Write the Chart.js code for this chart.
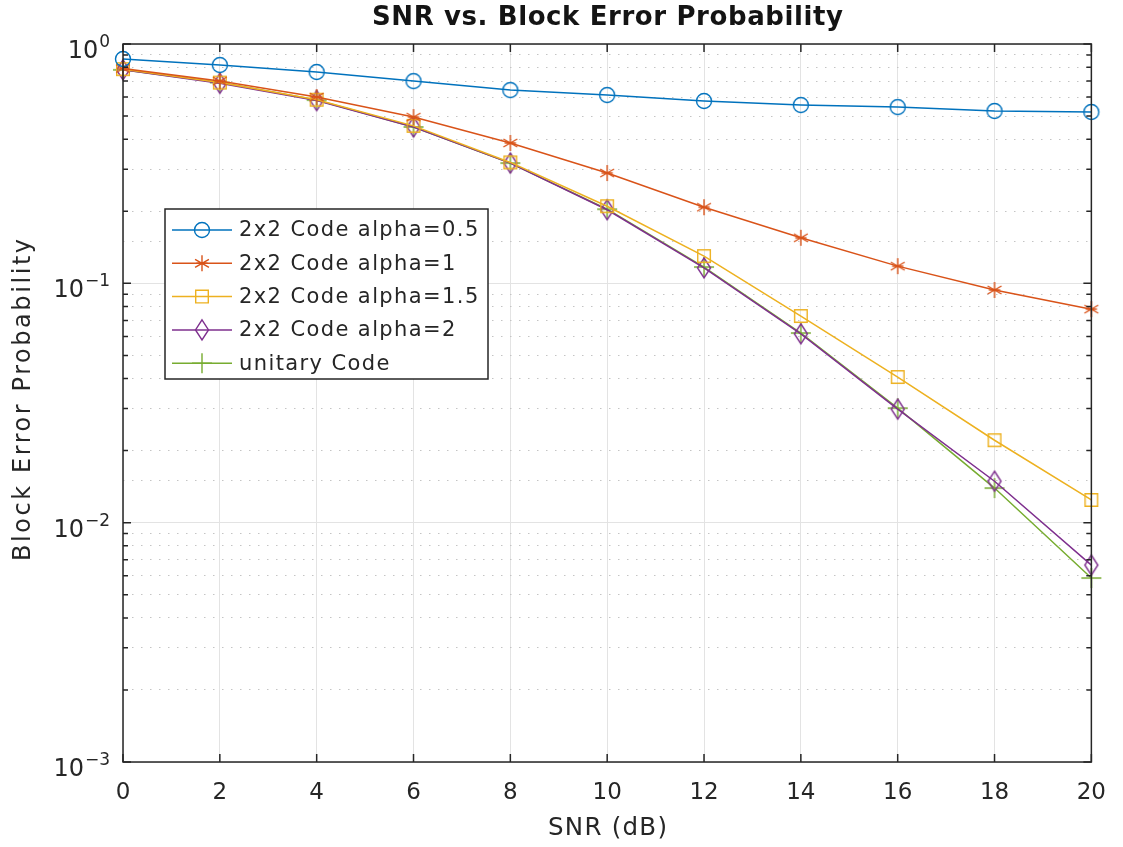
<!DOCTYPE html>
<html><head><meta charset="utf-8">
<script src="https://cdn.jsdelivr.net/npm/chart.js@4.4.1/dist/chart.umd.min.js"></script>
<style>html,body{margin:0;padding:0;background:#fff}#wrap{width:1123px;height:847px}</style>
</head><body><div id="wrap"><canvas id="c" width="1123" height="847"></canvas></div>
<script>
const snr = [0, 2, 4, 6, 8, 10, 12, 14, 16, 18, 20];
const alpha05 = [0.866, 0.817, 0.764, 0.70, 0.642, 0.612, 0.578, 0.556, 0.545, 0.525, 0.52];
const alpha1 = [0.79, 0.70, 0.60, 0.495, 0.386, 0.289, 0.208, 0.155, 0.118, 0.0938, 0.078];
const alpha15 = [0.785, 0.69, 0.585, 0.455, 0.32, 0.21, 0.13, 0.073, 0.0406, 0.0221, 0.01244];
const alpha2 = [0.78, 0.685, 0.58, 0.45, 0.318, 0.203, 0.116, 0.0615, 0.0298, 0.0149, 0.00665];
const unitary = [0.78, 0.69, 0.583, 0.45, 0.318, 0.204, 0.117, 0.062, 0.0301, 0.01395, 0.00587];
const seriesNames = ['2x2 Code alpha=0.5', '2x2 Code alpha=1', '2x2 Code alpha=1.5', '2x2 Code alpha=2', 'unitary Code'];
const yDecades = [1, 0.1, 0.01, 0.001];
const yExponents = ['0', '\u22121', '\u22122', '\u22123'];

const FONT = '"DejaVu Sans", sans-serif';
const TXT = '#262626';
const colors = ['#0072BD', '#D95319', '#EDB120', '#7E2F8E', '#77AC30'];
const markers = ['circle', 'star', 'square', 'diamond', 'plus'];
const msize = {circle: 7.5, star: 8, square: 6.3, diamond: [6.5, 10], plus: 10};

function drawMarker(ctx, type, x, y, color) {
  ctx.save();
  ctx.strokeStyle = color; ctx.lineWidth = 1.4; ctx.setLineDash([]);
  ctx.beginPath();
  if (type === 'circle') { ctx.arc(x, y, msize.circle, 0, Math.PI * 2); }
  else if (type === 'square') { const s = msize.square; ctx.rect(x - s, y - s, 2 * s, 2 * s); }
  else if (type === 'diamond') { const [w, h] = msize.diamond; ctx.moveTo(x, y - h); ctx.lineTo(x + w, y); ctx.lineTo(x, y + h); ctx.lineTo(x - w, y); ctx.closePath(); }
  else if (type === 'plus') { const r = msize.plus; ctx.moveTo(x - r, y); ctx.lineTo(x + r, y); ctx.moveTo(x, y - r); ctx.lineTo(x, y + r); }
  else if (type === 'star') {
    const r = msize.star;
    ctx.moveTo(x, y - r); ctx.lineTo(x, y + r);
    const a = r * Math.cos(Math.PI / 6), b = r * Math.sin(Math.PI / 6);
    ctx.moveTo(x - a, y - b); ctx.lineTo(x + a, y + b);
    ctx.moveTo(x - a, y + b); ctx.lineTo(x + a, y - b);
    ctx.moveTo(x - r * 0.7, y); ctx.lineTo(x + r * 0.7, y);
  }
  ctx.stroke();
  ctx.restore();
}
function markerCanvas(type, color) {
  const c = document.createElement('canvas');
  c.width = 26; c.height = 26;
  drawMarker(c.getContext('2d'), type, 13, 13, color);
  return c;
}

const values = [alpha05, alpha1, alpha15, alpha2, unitary];
const datasets = values.map((v, i) => ({
  label: seriesNames[i],
  data: snr.map((x, k) => ({x: x, y: v[k]})),
  borderColor: colors[i],
  backgroundColor: 'rgba(0,0,0,0)',
  borderWidth: 1.5,
  pointStyle: markerCanvas(markers[i], colors[i]),
  pointRadius: 8,
  pointHoverRadius: 8,
  tension: 0,
  clip: false
}));

const L = 123, R = 1093, T = 44, B = 762;

function fitText(ctx, text, font, target) {
  ctx.font = font;
  ctx.letterSpacing = '0px';
  const w = ctx.measureText(text).width;
  const ls = (target - w) / Math.max(1, text.length - 1);
  ctx.letterSpacing = ls.toFixed(2) + 'px';
  return w + ls * (text.length - 1);
}
function drawCentered(ctx, text, font, target, cx, cy) {
  const w = fitText(ctx, text, font, target);
  ctx.textAlign = 'left'; ctx.textBaseline = 'middle';
  ctx.fillText(text, cx - w / 2, cy);
  ctx.letterSpacing = '0px';
}

const deco = {
  id: 'deco',
  afterDraw(chart) {
    const ctx = chart.ctx;
    const xs = chart.scales.x, ys = chart.scales.y;
    const ca = chart.chartArea;
    ctx.save();
    ctx.strokeStyle = '#262626'; ctx.lineWidth = 1.5; ctx.setLineDash([]);
    ctx.strokeRect(ca.left, ca.top, ca.right - ca.left, ca.bottom - ca.top);
    ctx.beginPath();
    snr.forEach(v => {
      const px = xs.getPixelForValue(v);
      ctx.moveTo(px, ca.bottom); ctx.lineTo(px, ca.bottom - 8);
      ctx.moveTo(px, ca.top); ctx.lineTo(px, ca.top + 8);
    });
    for (let e = -3; e <= 0; e++) {
      for (let m = 1; m <= 9; m++) {
        const val = m * Math.pow(10, e);
        if (val > 1.0000001) break;
        const py = ys.getPixelForValue(val);
        const len = m === 1 ? 8 : 5;
        ctx.moveTo(ca.left, py); ctx.lineTo(ca.left + len, py);
        ctx.moveTo(ca.right, py); ctx.lineTo(ca.right - len, py);
      }
    }
    ctx.stroke();
    ctx.fillStyle = TXT;
    yDecades.forEach((d, i) => {
      const py = ys.getPixelForValue(d);
      ctx.font = '17px ' + FONT;
      ctx.textBaseline = 'alphabetic';
      ctx.textAlign = 'right';
      const ew = ctx.measureText(yExponents[i]).width;
      ctx.fillText(yExponents[i], 110, py + 3);
      ctx.font = '24px ' + FONT;
      ctx.fillText('10', 110 - ew - 1, py + 14);
    });
    ctx.fillStyle = '#141414';
    drawCentered(ctx, 'SNR vs. Block Error Probability', 'bold 26px ' + FONT, 471, 607.5, 18);
    ctx.fillStyle = TXT;
    drawCentered(ctx, 'SNR (dB)', '24.5px ' + FONT, 119, 607.5, 829);
    ctx.save();
    ctx.translate(24, 400);
    ctx.rotate(-Math.PI / 2);
    drawCentered(ctx, 'Block Error Probability', '24px ' + FONT, 322, 0, 0);
    ctx.restore();
    const lx = 165, ly = 209, lw = 323, lh = 170;
    ctx.fillStyle = '#fff';
    ctx.fillRect(lx, ly, lw, lh);
    ctx.strokeStyle = '#262626'; ctx.lineWidth = 1.5;
    ctx.strokeRect(lx, ly, lw, lh);
    seriesNames.forEach((name, i) => {
      const yy = 230 + i * 33.3;
      ctx.strokeStyle = colors[i]; ctx.lineWidth = 1.5;
      ctx.beginPath(); ctx.moveTo(172, yy); ctx.lineTo(232, yy); ctx.stroke();
      drawMarker(ctx, markers[i], 202, yy, colors[i]);
      ctx.fillStyle = TXT;
      ctx.font = '21px ' + FONT;
      ctx.letterSpacing = '1.4px';
      ctx.textAlign = 'left'; ctx.textBaseline = 'middle';
      ctx.fillText(name, 239, yy + 1);
      ctx.letterSpacing = '0px';
    });
    ctx.restore();
  }
};

new Chart(document.getElementById('c'), {
  type: 'line',
  data: {datasets},
  options: {
    responsive: false,
    animation: false,
    devicePixelRatio: 1,
    layout: {padding: {top: T, right: 1123 - R, left: 0, bottom: 0}},
    plugins: {legend: {display: false}, title: {display: false}, tooltip: {enabled: false}},
    scales: {
      x: {
        type: 'linear', min: 0, max: 20,
        afterFit(s) { s.height = 847 - B; },
        ticks: {stepSize: 2, color: TXT, font: {family: FONT, size: 23}, padding: 17, maxRotation: 0},
        grid: {color: '#e3e3e3', lineWidth: 1, drawTicks: false},
        border: {display: false}
      },
      y: {
        type: 'logarithmic', min: 0.001, max: 1,
        afterFit(s) { s.width = L; },
        ticks: {autoSkip: false, callback: () => '', display: true},
        grid: {
          drawTicks: false,
          color: (c) => {
            const v = c.tick ? c.tick.value : 0;
            const m = v / Math.pow(10, Math.floor(Math.log10(v) + 1e-9));
            return Math.abs(m - 1) < 1e-6 ? '#e3e3e3' : '#c4c4c4';
          },
          lineWidth: 1
        },
        border: {
          display: false,
          dash: (c) => {
            if (!c.tick) return [];
            const v = c.tick.value;
            const m = v / Math.pow(10, Math.floor(Math.log10(v) + 1e-9));
            return Math.abs(m - 1) < 1e-6 ? [] : [1.5, 7.5];
          }
        }
      }
    }
  },
  plugins: [deco]
});
</script>
</body></html>
